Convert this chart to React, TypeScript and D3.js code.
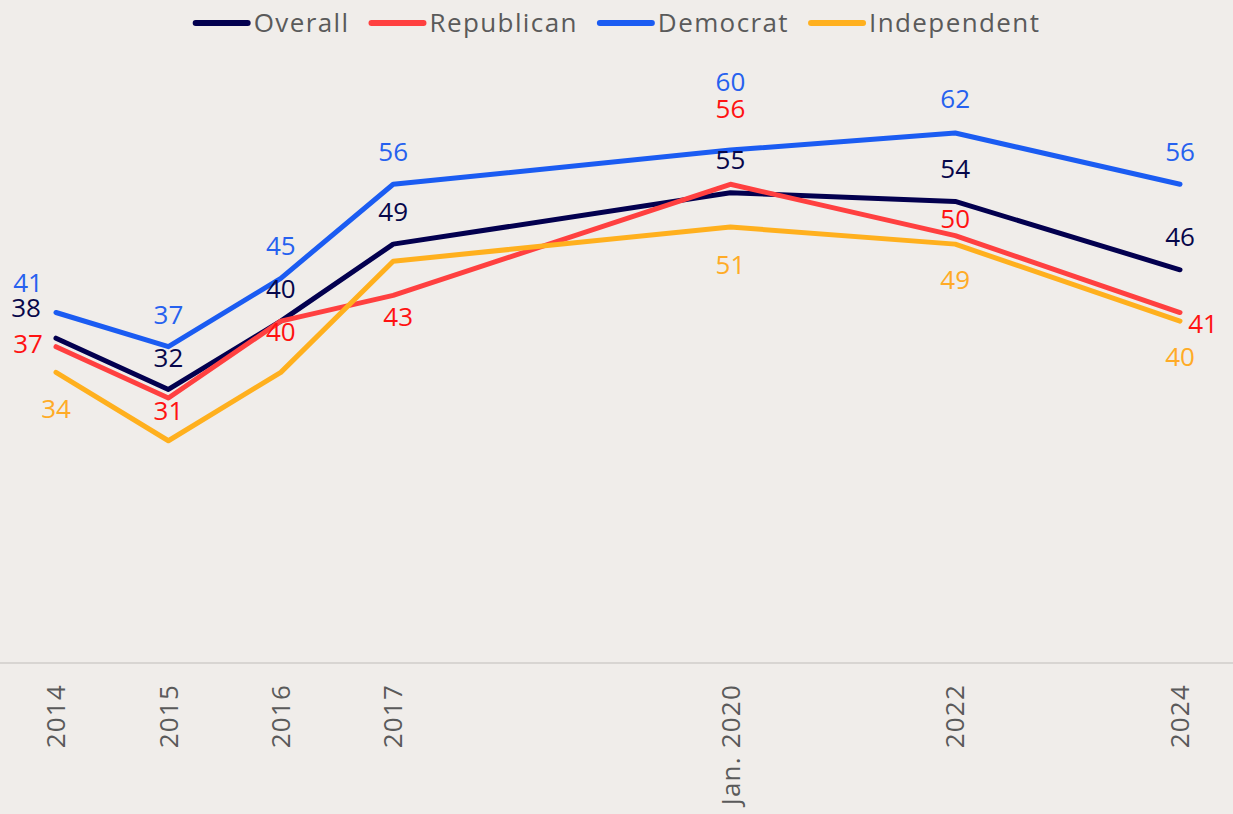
import { line, scaleLinear, select } from "d3";
import { useEffect, useRef } from "react";

const years = [2014, 2015, 2016, 2017, 2020, 2022, 2024];
const tickLabels = ["2014", "2015", "2016", "2017", "Jan. 2020", "2022", "2024"];

const overall = [38, 32, 40, 49, 55, 54, 46];
const republican = [37, 31, 40, 43, 56, 50, 41];
const democrat = [41, 37, 45, 56, 60, 62, 56];
const independent = [34, 26, 34, 47, 51, 49, 40];

// label nudges [dx, dy] from the point; null = no label
const overallLabelOffsets = [[-30, -30], [0, -32], [0, -32], [0, -32], [0, -33], [0, -32], [0, -33]];
const republicanLabelOffsets = [[-28, -3], [0, 13], [0, 11], [5, 21], [0, -75], [0, -17], [23, 11]];
const democratLabelOffsets = [[-28, -30], [0, -32], [0, -32], [0, -32], [0, -68], [0, -34], [0, -32]];
const independentLabelOffsets = [[0, 37], null, null, null, [0, 38], [0, 36], [0, 36]];

const W = 1233;
const H = 814;
const FONT = "'Open Sans', 'DejaVu Sans', sans-serif";

function App() {
  const svgRef = useRef(null);

  useEffect(() => {
    document.body.style.margin = "0";
    const svg = select(svgRef.current);
    svg.selectAll("*").remove();

    const series = [
      { name: "Overall", values: overall, offsets: overallLabelOffsets, color: "#03004f", labelColor: "#07074a" },
      { name: "Republican", values: republican, offsets: republicanLabelOffsets, color: "#ff4040", labelColor: "#ff1212" },
      { name: "Democrat", values: democrat, offsets: democratLabelOffsets, color: "#1b5cf2", labelColor: "#2661ef" },
      { name: "Independent", values: independent, offsets: independentLabelOffsets, color: "#ffb01e", labelColor: "#ffab26" },
    ];

    const xScale = scaleLinear().domain([2014, 2024]).range([56, 1180]);
    const yScale = scaleLinear().domain([0, 62]).range([663, 133]);

    svg.append("rect").attr("width", W).attr("height", H).attr("fill", "#f0edea");

    // baseline
    svg
      .append("line")
      .attr("x1", 0)
      .attr("x2", W)
      .attr("y1", yScale(0))
      .attr("y2", yScale(0))
      .attr("stroke", "#d8d5d2")
      .attr("stroke-width", 2);

    // x tick labels
    svg
      .append("g")
      .selectAll("text")
      .data(years)
      .join("text")
      .attr("transform", (d) => `translate(${xScale(d)},${yScale(0) + 21}) rotate(-90)`)
      .attr("text-anchor", "end")
      .attr("dy", "0.35em")
      .attr("font-family", FONT)
      .attr("font-size", 26)
      .attr("letter-spacing", 1.2)
      .attr("fill", "#5a5a5a")
      .text((_, i) => tickLabels[i]);

    const myLine = line<number>()
      .x((_, i) => xScale(years[i]))
      .y((d) => yScale(d));

    series.forEach((s) => {
      svg
        .append("path")
        .attr("d", myLine(s.values))
        .attr("fill", "none")
        .attr("stroke", s.color)
        .attr("stroke-width", 5)
        .attr("stroke-linecap", "round")
        .attr("stroke-linejoin", "round");
    });

    series.forEach((s) => {
      const labels = s.values
        .map((v, i) => ({ v, year: years[i], off: s.offsets[i] }))
        .filter((d) => d.off !== null) as { v: number; year: number; off: number[] }[];
      svg
        .append("g")
        .selectAll("text")
        .data(labels)
        .join("text")
        .attr("x", (d) => xScale(d.year) + d.off[0])
        .attr("y", (d) => yScale(d.v) + d.off[1])
        .attr("dy", "0.35em")
        .attr("text-anchor", "middle")
        .attr("font-family", FONT)
        .attr("font-size", 26)
        .attr("fill", s.labelColor)
        .text((d) => `${d.v}`);
    });

    // legend
    const legend = svg.append("g");
    let x = 0;
    series.forEach((s) => {
      const item = legend.append("g").attr("transform", `translate(${x},0)`);
      item
        .append("line")
        .attr("x1", 3)
        .attr("x2", 55)
        .attr("y1", 23)
        .attr("y2", 23)
        .attr("stroke", s.color)
        .attr("stroke-width", 6)
        .attr("stroke-linecap", "round");
      const t = item
        .append("text")
        .attr("x", 61)
        .attr("y", 23)
        .attr("dy", "0.35em")
        .attr("font-family", FONT)
        .attr("font-size", 26)
        .attr("letter-spacing", 1.4)
        .attr("fill", "#5a5a5a")
        .text(s.name);
      const len = (t.node() as SVGTextElement).getComputedTextLength();
      x += 61 + len + 19;
    });
    const total = x - 19;
    legend.attr("transform", `translate(${(W - total) / 2},0)`);
  }, []);

  return <svg ref={svgRef} width={W} height={H} style={{ display: "block" }}></svg>;
}

export default App;
